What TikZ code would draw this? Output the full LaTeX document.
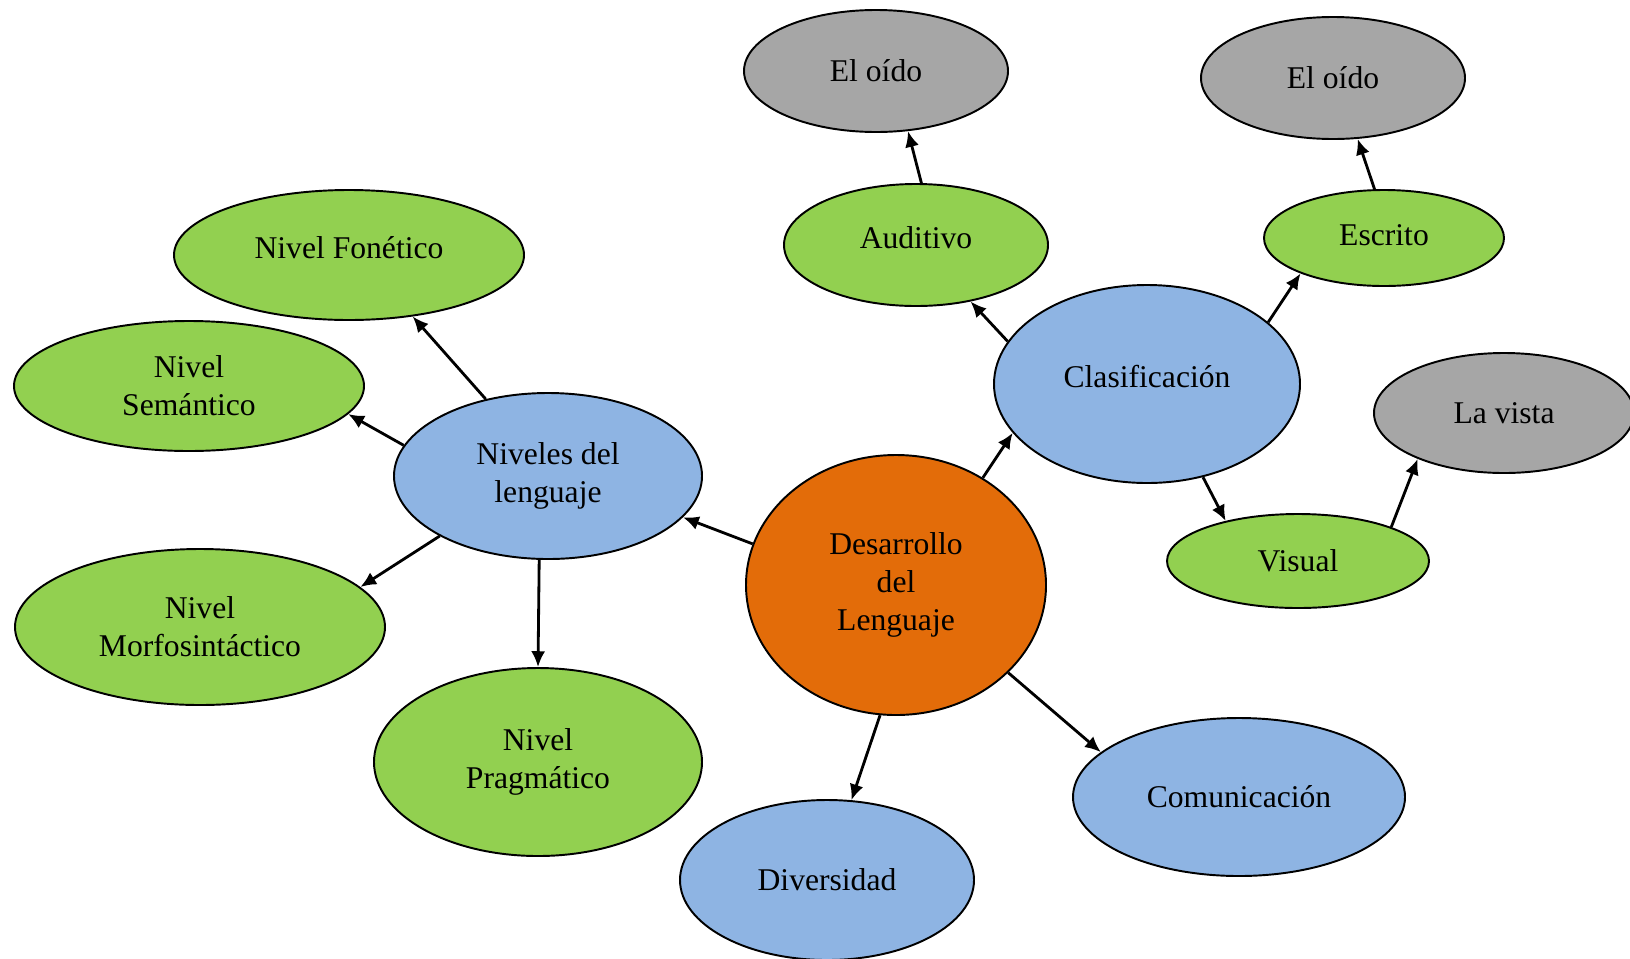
\documentclass[tikz,border=0pt]{standalone}
\usepackage{fontspec}
\setmainfont{Liberation Serif}
\usetikzlibrary{shapes.geometric,arrows.meta}
\definecolor{verde}{HTML}{92D050}
\definecolor{azul}{HTML}{8EB4E3}
\definecolor{naranja}{HTML}{E36C09}
\definecolor{gris}{HTML}{A6A6A6}
\begin{document}
\begin{tikzpicture}[
	burbuja/.style={ellipse, draw=black, line width=1.1pt, inner sep=0pt, align=center,
		font=\fontsize{18}{21.5}\selectfont},
	hoja/.style={burbuja, fill=verde},
	rama/.style={burbuja, fill=azul},
	oido/.style={burbuja, fill=gris},
	subir/.style={text depth=#1},
	bajar/.style={execute at begin node={\rule{0pt}{#1}}},
	flecha/.style={-{Latex[length=9pt,width=8pt]}, line width=1.6pt}]
		%%%%% START %%%%%
		\useasboundingbox (0, 0) rectangle (32.6, -19.16);
		\clip (0, 0) rectangle (32.6, -19.16);
		
		\node[burbuja, fill=naranja, bajar=0.70cm, minimum width=6cm, minimum height=5.2cm] (centro) at (17.92, -11.70) {Desarrollo\\del\\Lenguaje};
		
		\node[rama, bajar=0.65cm, minimum width=6.16cm, minimum height=3.32cm] (niveles) at (10.96, -9.52) {Niveles del\\lenguaje};
		\node[hoja, subir=0.29cm, minimum width=7cm, minimum height=2.6cm] (fonetico) at (6.98, -5.10) {Nivel Fonético};
		\node[hoja, bajar=0.57cm, minimum width=7cm, minimum height=2.6cm] (semantico) at (3.78, -7.72) {Nivel\\Semántico};
		\node[hoja, minimum width=7.4cm, minimum height=3.12cm] (morfo) at (4.0, -12.54) {Nivel\\Morfosintáctico};
		\node[hoja, bajar=0.65cm, minimum width=6.56cm, minimum height=3.76cm] (pragmatico) at (10.76, -15.24) {Nivel\\Pragmático};
		
		\node[rama, minimum width=5.88cm, minimum height=3.2cm] (diversidad) at (16.54, -17.60) {Diversidad};
		\node[rama, minimum width=6.64cm, minimum height=3.16cm] (comunicacion) at (24.78, -15.94) {Comunicación};
		
		\node[rama, subir=0.29cm, minimum width=6.12cm, minimum height=3.96cm] (clasif) at (22.94, -7.68) {Clasificación};
		\node[hoja, subir=0.29cm, minimum width=5.28cm, minimum height=2.44cm] (auditivo) at (18.32, -4.90) {Auditivo};
		\node[oido, minimum width=5.28cm, minimum height=2.44cm] (oidoA) at (17.52, -1.42) {El oído};
		\node[hoja, subir=0.12cm, minimum width=4.8cm, minimum height=1.92cm] (escrito) at (27.68, -4.76) {Escrito};
		\node[oido, minimum width=5.28cm, minimum height=2.44cm] (oidoB) at (26.66, -1.56) {El oído};
		\node[hoja, minimum width=5.24cm, minimum height=1.88cm] (visual) at (25.96, -11.22) {Visual};
		\node[oido, minimum width=5.2cm, minimum height=2.4cm] (vista) at (30.08, -8.26) {La vista};
		
		\draw[flecha] (centro.164) -- (niveles.343);
		\draw[flecha] (centro.51) -- (clasif.200);
		\draw[flecha] (centro.263) -- (diversidad.73);
		\draw[flecha] (centro.322) -- (comunicacion.162);
		
		\draw[flecha] (niveles.129) -- (fonetico.316);
		\draw[flecha] (niveles.168) -- (semantico.350);
		\draw[flecha] (niveles.209) -- (morfo.14);
		\draw[flecha] (niveles.264) -- (pragmatico.90);
		
		\draw[flecha] (clasif.163) -- (auditivo.314);
		\draw[flecha] (clasif.27) -- (escrito.203);
		\draw[flecha] (clasif.301) -- (visual.151);
		\draw[flecha] (auditivo.85) -- (oidoA.298);
		\draw[flecha] (escrito.101) -- (oidoB.292);
		\draw[flecha] (visual.20) -- (vista.208);
		%%%%% END %%%%%
\end{tikzpicture}
\end{document}
